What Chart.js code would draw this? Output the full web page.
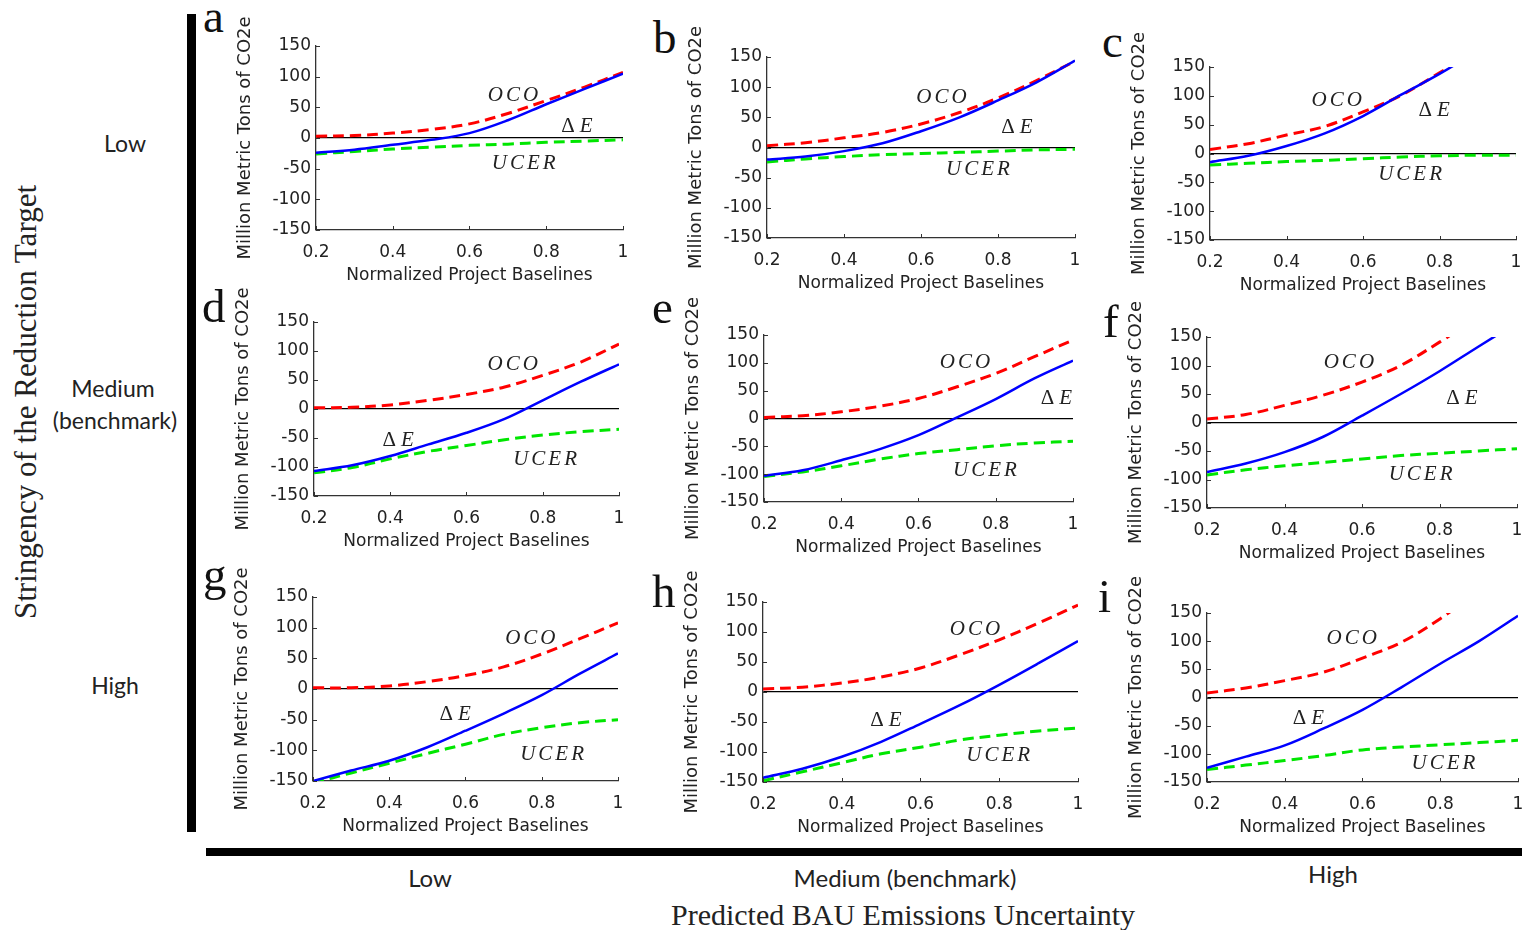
<!DOCTYPE html>
<html>
<head>
<meta charset="utf-8">
<script src="https://cdn.jsdelivr.net/npm/chart.js@4.4.1/dist/chart.umd.min.js"></script>
<style>
  html, body { margin: 0; padding: 0; background: #fff; }
  #page { position: relative; width: 1522px; height: 930px; overflow: hidden; background: #fff; }
  .pan { position: absolute; }
  .letter { position: absolute; font-family: "Liberation Serif", serif; font-size: 47px; line-height: 46px; color: #111; }
  .lab { position: absolute; font-family: Lato, "Open Sans", sans-serif; color: #222; white-space: nowrap; transform: translate(-50%, -50%); }
  .serif { position: absolute; font-family: "Liberation Serif", serif; color: #222; white-space: nowrap; }
  .bar { position: absolute; background: #000; }
</style>
</head>
<body>
<div id="page">
  <div class="bar" style="left:187px; top:14px; width:9px; height:818px;"></div>
  <div class="bar" style="left:206px; top:848px; width:1316px; height:8px;"></div>

  <div class="serif" style="left:26px; top:402px; font-size:31px; transform: translate(-50%, -50%) rotate(-90deg);">Stringency of the Reduction Target</div>
  <div class="lab" style="left:125px; top:143px; font-size:23px;">Low</div>
  <div class="lab" style="left:113px; top:388px; font-size:23px;">Medium</div>
  <div class="lab" style="left:115px; top:420px; font-size:23px;">(benchmark)</div>
  <div class="lab" style="left:115px; top:685px; font-size:23px;">High</div>

  <div class="lab" style="left:430px; top:877px; font-size:24px;">Low</div>
  <div class="lab" style="left:905px; top:877px; font-size:24px;">Medium (benchmark)</div>
  <div class="lab" style="left:1333px; top:873px; font-size:24px;">High</div>
  <div class="serif" style="left:903px; top:915px; font-size:30px; transform: translate(-50%, -50%);">Predicted BAU Emissions Uncertainty</div>
</div>
<script>
// ---------------- data ----------------
const xValues = [0.2, 0.3, 0.4, 0.5, 0.6, 0.7, 0.8, 0.9, 1.0];
const xTicks = [0.2, 0.4, 0.6, 0.8, 1];
const yTicks = [-150, -100, -50, 0, 50, 100, 150];
const seriesNames = ["OCO", "\u0394E", "UCER"];
const panelLetters = ["a", "b", "c", "d", "e", "f", "g", "h", "i"];
const rowLabels = ["Low", "Medium (benchmark)", "High"];
const colLabels = ["Low", "Medium (benchmark)", "High"];

// Panel a
const ocoA  = [3, 4, 8, 14, 23, 40, 61, 83, 107];
const deA   = [-24, -19, -11, -3, 8, 29, 55, 80, 105];
const ucerA = [-26, -22, -18, -15, -12, -10, -7, -5, -3];
// Panel b
const ocoB  = [3, 8, 16, 25, 39, 58, 82, 111, 143];
const deB   = [-20, -15, -6, 7, 27, 50, 78, 108, 144];
const ucerB = [-24, -19, -15, -12, -10, -8, -6, -4, -3];
// Panel c
const ocoC  = [7, 17, 32, 47, 72, 101, 140, 180, null];
const deC   = [-15, -4, 13, 35, 65, 102, 138, 178, null];
const ucerC = [-20, -17, -14, -12, -9, -6, -4, -3, -3];
// Panel d
const ocoD  = [2, 3, 7, 15, 25, 38, 58, 81, 112];
const deD   = [-107, -97, -81, -61, -41, -17, 15, 47, 77];
const ucerD = [-110, -101, -86, -73, -63, -53, -45, -39, -35];
// Panel e
const ocoE  = [2, 5, 12, 22, 36, 57, 81, 111, 141];
const deE   = [-103, -93, -75, -55, -30, 2, 35, 72, 104];
const ucerE = [-104, -96, -85, -73, -63, -56, -49, -44, -41];
// Panel f
const ocoF  = [6, 14, 30, 48, 71, 100, 141, 185, null];
const deF   = [-87, -72, -52, -25, 12, 50, 90, 133, 175];
const ucerF = [-92, -83, -76, -70, -64, -58, -54, -50, -46];
// Panel g
const ocoG  = [2, 2, 5, 12, 22, 36, 57, 82, 108];
const deG   = [-150, -133, -117, -95, -68, -40, -10, 25, 58];
const ucerG = [-153, -137, -121, -105, -90, -74, -63, -55, -50];
// Panel h
const ocoH  = [5, 8, 15, 25, 40, 62, 87, 115, 145];
const deH   = [-143, -128, -108, -83, -53, -22, 12, 48, 85];
const ucerH = [-148, -133, -118, -103, -92, -80, -72, -65, -60];
// Panel i
const ocoI  = [8, 17, 30, 45, 70, 98, 140, 190, null];
const deI   = [-125, -105, -85, -55, -22, 18, 60, 100, 145];
const ucerI = [-128, -120, -112, -103, -93, -88, -84, -80, -76];

// ---------------- layout / annotation config ----------------
// plot rectangles [left, top, right, bottom]
const panels = [
  { rect: [316, 46, 623, 230],  oco: ocoA, de: deA, ucer: ucerA, letter: [203, 32],
    tags: [[0.717, 70], [0.88, 18], [0.745, -41]] },
  { rect: [767, 57, 1075, 238], oco: ocoB, de: deB, ucer: ucerB, letter: [653, 53],
    tags: [[0.657, 83], [0.849, 34], [0.752, -36]] },
  { rect: [1210, 67, 1516, 240], oco: ocoC, de: deC, ucer: ucerC, letter: [1102, 57],
    tags: [[0.535, 92], [0.786, 75], [0.727, -37]] },
  { rect: [314, 322, 619, 496], oco: ocoD, de: deD, ucer: ucerD, letter: [202, 322],
    tags: [[0.725, 77], [0.421, -55], [0.81, -87]] },
  { rect: [764, 335, 1073, 502], oco: ocoE, de: deE, ucer: ucerE, letter: [652, 323],
    tags: [[0.724, 100], [0.957, 36], [0.776, -93]] },
  { rect: [1207, 337, 1517, 508], oco: ocoF, de: deF, ucer: ucerF, letter: [1103, 337],
    tags: [[0.57, 106], [0.858, 42], [0.755, -91]] },
  { rect: [313, 597, 618, 781], oco: ocoG, de: deG, ucer: ucerG, letter: [203, 590],
    tags: [[0.774, 83], [0.573, -42], [0.831, -107]] },
  { rect: [763, 602, 1078, 782], oco: ocoH, de: deH, ucer: ucerH, letter: [652, 607],
    tags: [[0.742, 105], [0.512, -47], [0.801, -105]] },
  { rect: [1207, 613, 1518, 782], oco: ocoI, de: deI, ucer: ucerI, letter: [1098, 612],
    tags: [[0.576, 104], [0.461, -38], [0.812, -117]] }
];

const LEFT_W = 85, TOP_P = 50, RIGHT_P = 12, BOTTOM_H = 60;
const AXIS_FONT = '"DejaVu Sans"';
const TEXT_COL = "#222";

const innerTicks = {
  id: "innerTicks",
  afterDraw(chart) {
    const { ctx, chartArea } = chart;
    const xs = chart.scales.x, ys = chart.scales.y;
    ctx.save();
    ctx.strokeStyle = "#333";
    ctx.lineWidth = 1;
    ctx.beginPath();
    xs.ticks.forEach(t => {
      const px = Math.round(xs.getPixelForValue(t.value)) + 0.5;
      ctx.moveTo(px, chartArea.bottom);
      ctx.lineTo(px, chartArea.bottom - 4);
    });
    ys.ticks.forEach(t => {
      const py = Math.round(ys.getPixelForValue(t.value)) + 0.5;
      ctx.moveTo(chartArea.left, py);
      ctx.lineTo(chartArea.left + 4, py);
    });
    ctx.stroke();
    ctx.restore();
  }
};

const curveTags = {
  id: "curveTags",
  afterDatasetsDraw(chart) {
    const tags = chart.options.plugins.curveTags.tags;
    const { ctx } = chart;
    const xs = chart.scales.x, ys = chart.scales.y;
    ctx.save();
    ctx.fillStyle = TEXT_COL;
    ctx.textBaseline = "middle";
    tags.forEach((p, k) => {
      const px = xs.getPixelForValue(p[0]);
      const py = ys.getPixelForValue(p[1]);
      const name = seriesNames[k];
      if (name.startsWith("\u0394")) {
        ctx.letterSpacing = "0px";
        ctx.font = '21px "Liberation Serif"';
        const w1 = ctx.measureText("\u0394").width;
        ctx.font = 'italic 21px "Liberation Serif"';
        const w2 = ctx.measureText("E").width;
        const gap = 5;
        const start = px - (w1 + gap + w2) / 2;
        ctx.textAlign = "left";
        ctx.font = '21px "Liberation Serif"';
        ctx.fillText("\u0394", start, py);
        ctx.font = 'italic 21px "Liberation Serif"';
        ctx.fillText("E", start + w1 + gap, py);
      } else {
        ctx.font = 'italic 21px "Liberation Serif"';
        ctx.letterSpacing = "3px";
        ctx.textAlign = "center";
        ctx.fillText(name, px, py);
      }
    });
    ctx.restore();
  }
};

const page = document.getElementById("page");

panels.forEach((p, idx) => {
  const [L, T, R, B] = p.rect;
  const w = (R - L) + LEFT_W + RIGHT_P;
  const h = (B - T) + TOP_P + BOTTOM_H;
  const cv = document.createElement("canvas");
  cv.className = "pan";
  cv.width = w; cv.height = h;
  cv.style.left = (L - LEFT_W) + "px";
  cv.style.top = (T - TOP_P) + "px";
  cv.style.width = w + "px";
  cv.style.height = h + "px";
  page.appendChild(cv);

  const lt = document.createElement("div");
  lt.className = "letter";
  lt.textContent = panelLetters[idx];
  lt.style.left = p.letter[0] + "px";
  lt.style.top = (p.letter[1] - 39) + "px";
  page.appendChild(lt);

  const mk = arr => xValues.map((x, i) => ({ x: x, y: arr[i] }));
  const lineBase = { pointRadius: 0, tension: 0.35, fill: false };

  new Chart(cv.getContext("2d"), {
    type: "line",
    data: {
      datasets: [
        Object.assign({ label: seriesNames[1], data: mk(p.de), borderColor: "#0000ff", borderWidth: 2.5 }, lineBase),
        Object.assign({ label: seriesNames[0], data: mk(p.oco), borderColor: "#ff0000", borderWidth: 3,
          borderDash: [11, 6] }, lineBase),
        Object.assign({ label: seriesNames[2], data: mk(p.ucer), borderColor: "#00e600", borderWidth: 3,
          borderDash: [11, 6] }, lineBase)
      ]
    },
    options: {
      responsive: false,
      animation: false,
      devicePixelRatio: 1,
      layout: { padding: { left: 0, top: TOP_P, right: RIGHT_P, bottom: 0 } },
      plugins: {
        legend: { display: false },
        tooltip: { enabled: false },
        curveTags: { tags: p.tags }
      },
      scales: {
        x: {
          type: "linear",
          min: 0.2, max: 1,
          afterBuildTicks: s => { s.ticks = xTicks.map(v => ({ value: v })); },
          ticks: { color: TEXT_COL, font: { family: AXIS_FONT, size: 17 }, padding: 12,
                   maxRotation: 0, autoSkip: false, callback: v => String(v) },
          grid: { display: false, drawTicks: false },
          border: { display: true, color: "#333", width: 1.3 },
          title: { display: true, text: "Normalized Project Baselines", color: TEXT_COL,
                   font: { family: AXIS_FONT, size: 17 }, padding: { top: 0, bottom: 4 } },
          afterFit: s => { s.height = BOTTOM_H; s.paddingLeft = 0; s.paddingRight = 0; }
        },
        y: {
          type: "linear",
          min: -150, max: 150,
          afterBuildTicks: s => { s.ticks = yTicks.map(v => ({ value: v })); },
          ticks: { color: TEXT_COL, font: { family: AXIS_FONT, size: 17 }, padding: 5, autoSkip: false,
                   callback: v => String(v) },
          grid: {
            drawTicks: false,
            color: c => (c.tick && c.tick.value === 0 ? "#000" : "rgba(0,0,0,0)"),
            lineWidth: 1.3
          },
          border: { display: true, color: "#333", width: 1.3 },
          title: { display: true, text: "Million Metric Tons of CO2e", color: TEXT_COL,
                   font: { family: AXIS_FONT, size: 18 }, padding: { top: 4, bottom: 0 } },
          afterFit: s => { s.width = LEFT_W; s.paddingTop = 0; s.paddingBottom = 0; }
        }
      }
    },
    plugins: [innerTicks, curveTags]
  });
});
</script>
</body>
</html>
